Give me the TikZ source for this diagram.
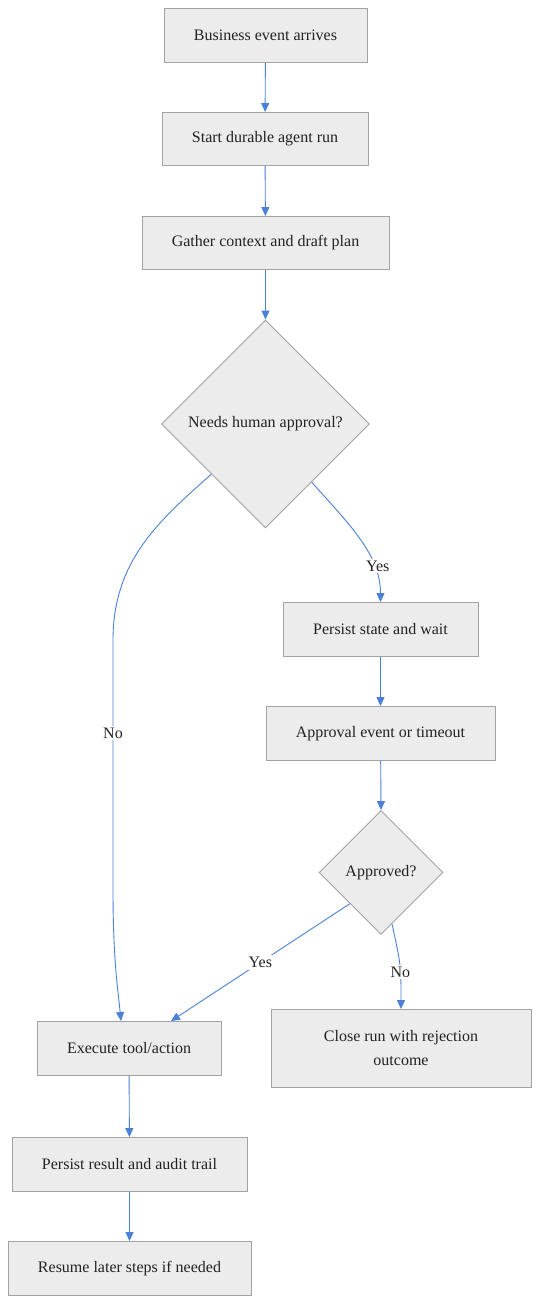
\documentclass[tikz,border=0pt]{standalone}
\usepackage{fontspec}
\setmainfont{Liberation Serif}
\usetikzlibrary{shapes.geometric,arrows.meta}
\definecolor{boxfill}{HTML}{ECECEC}
\definecolor{boxline}{HTML}{A3A3A3}
\definecolor{edgecol}{HTML}{4A80D8}
\definecolor{txt}{HTML}{222222}
\tikzset{
  stepbox/.style={draw=boxline, fill=boxfill, line width=0.9pt, rectangle, inner sep=0pt,
    text=txt, font=\fontsize{16}{24}\selectfont, align=center},
  decide/.style={draw=boxline, fill=boxfill, line width=0.9pt, diamond, aspect=1, inner sep=0pt,
    text=txt, font=\fontsize{16}{24}\selectfont},
  arr/.style={draw=edgecol, line width=0.9pt, -{Triangle[length=9pt,width=8pt]}},
  lbl/.style={fill=white, text=txt, font=\fontsize{16}{20}\selectfont, inner sep=2pt}
}
\begin{document}
\begin{tikzpicture}[x=1pt,y=-1pt]
\useasboundingbox (0,0) rectangle (540,1304);
\node[stepbox, minimum width=203pt, minimum height=54pt] (b1) at (265.5,35.5) {Business event arrives};
\node[stepbox, minimum width=206pt, minimum height=53pt] (b2) at (265,139) {Start durable agent run};
\node[stepbox, minimum width=247pt, minimum height=53pt] (b3) at (265.5,243) {Gather context and draft plan};
\node[decide, minimum width=208pt, minimum height=208pt] (d1) at (265.5,424) {Needs human approval?};
\node[stepbox, minimum width=195pt, minimum height=54pt] (p1) at (380.5,629.5) {Persist state and wait};
\node[stepbox, minimum width=229pt, minimum height=54pt] (p2) at (380.5,733.5) {Approval event or timeout};
\node[decide, minimum width=124pt, minimum height=124pt] (d2) at (381,872.5) {Approved?};
\node[stepbox, minimum width=184pt, minimum height=54pt] (ex) at (129,1048.5) {Execute tool/action};
\node[stepbox, minimum width=260pt, minimum height=78pt] (cl) at (401,1048.5) {Close run with rejection\\outcome};
\node[stepbox, minimum width=235pt, minimum height=54pt] (pr) at (129.5,1164.5) {Persist result and audit trail};
\node[stepbox, minimum width=243pt, minimum height=54pt] (rs) at (129.5,1268.5) {Resume later steps if needed};

\draw[arr] (b1) -- (b2);
\draw[arr] (b2) -- (b3);
\draw[arr] (b3) -- (d1.north);
\draw[arr] ([shift={(-2,-2)}]d1.south west) .. controls (160,520) and (113,560) .. (113,640)
  -- node[lbl]{No} (113,826) -- (113,890) .. controls (113,960) and (118,990) .. ([xshift=-8pt]ex.north);
\draw[arr] ([shift={(-6,6)}]d1.south east) .. controls (350,525) and (380.5,555) .. (p1.north) node[lbl, pos=0.72, xshift=4pt]{Yes};
\draw[arr] (p1) -- (p2);
\draw[arr] (p2) -- (d2.north);
\draw[arr] (d2.south west) -- node[lbl]{Yes} ([xshift=42pt]ex.north);
\draw[arr] ([shift={(11,-11)}]d2.south) .. controls (401,965) .. (cl.north) node[lbl, pos=0.6]{No};
\draw[arr] (ex) -- (pr);
\draw[arr] (pr) -- (rs);
\end{tikzpicture}
\end{document}
